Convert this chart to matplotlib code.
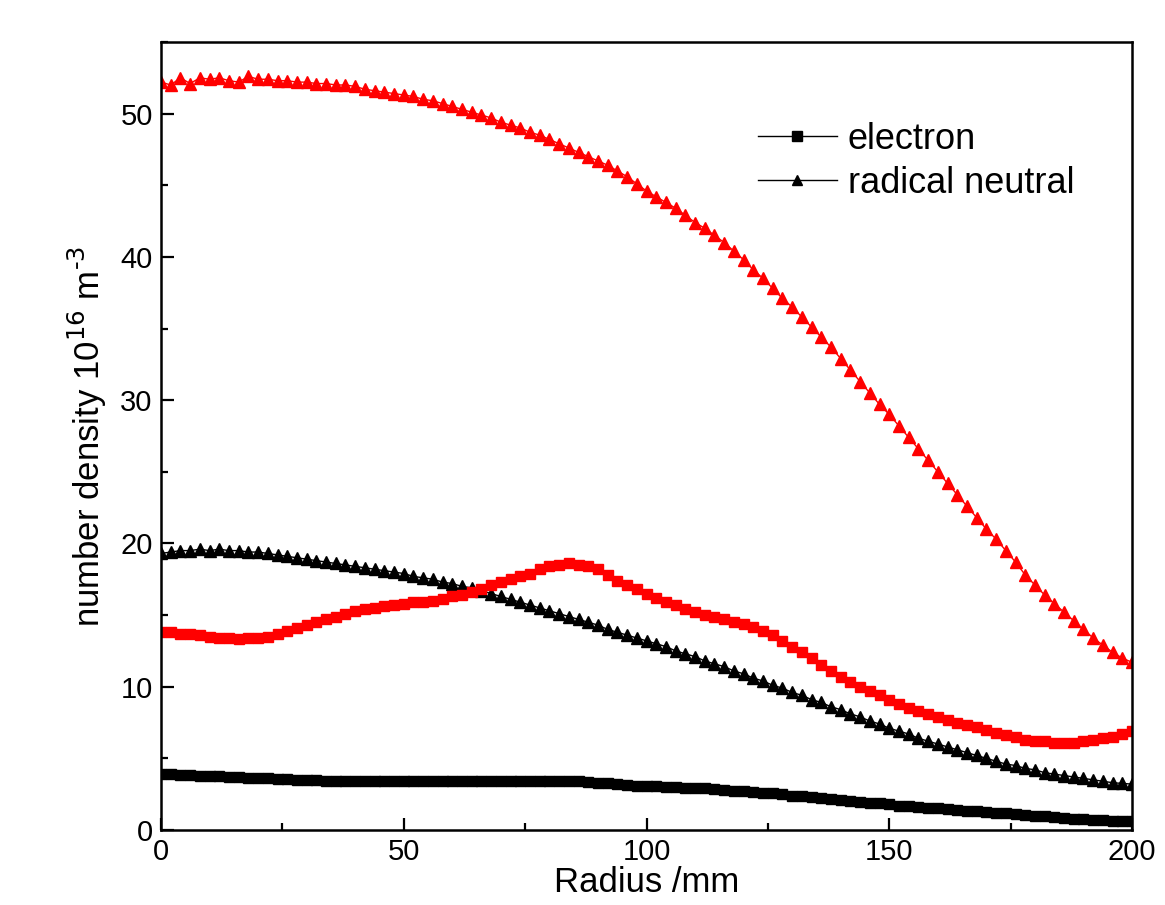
import numpy as np
import matplotlib
matplotlib.use('Agg')
import matplotlib.pyplot as plt
from matplotlib.ticker import MultipleLocator

plt.rcParams['font.family'] = ['Liberation Sans', 'DejaVu Sans']

# radius grid (mm), one sample every 2 mm
radius = list(range(0, 201, 2))

# case 1 (black)
electron_black = [
    3.9, 3.9, 3.85, 3.85, 3.8, 3.8, 3.75, 3.7, 3.7, 3.65,
    3.6, 3.6, 3.55, 3.55, 3.5, 3.5, 3.5, 3.45, 3.45, 3.45,
    3.4, 3.4, 3.4, 3.4, 3.4, 3.4, 3.4, 3.4, 3.4, 3.4,
    3.4, 3.4, 3.4, 3.4, 3.4, 3.4, 3.45, 3.45, 3.45, 3.45,
    3.45, 3.45, 3.4, 3.4, 3.35, 3.3, 3.25, 3.2, 3.15, 3.1,
    3.1, 3.05, 3.0, 3.0, 2.95, 2.9, 2.9, 2.85, 2.8, 2.75,
    2.7, 2.65, 2.6, 2.55, 2.5, 2.4, 2.35, 2.3, 2.2, 2.15,
    2.1, 2.0, 1.95, 1.9, 1.85, 1.8, 1.7, 1.65, 1.6, 1.55,
    1.5, 1.45, 1.4, 1.35, 1.3, 1.25, 1.2, 1.15, 1.1, 1.05,
    1.0, 0.95, 0.9, 0.85, 0.8, 0.75, 0.7, 0.7, 0.65, 0.6,
    0.6]
radical_black = [
    19.3, 19.4, 19.5, 19.5, 19.6, 19.5, 19.6, 19.5, 19.5, 19.4,
    19.4, 19.3, 19.2, 19.1, 19.0, 18.9, 18.8, 18.7, 18.6, 18.5,
    18.4, 18.3, 18.2, 18.1, 18.0, 17.9, 17.7, 17.6, 17.5, 17.3,
    17.2, 17.0, 16.9, 16.7, 16.5, 16.3, 16.1, 15.9, 15.7, 15.5,
    15.3, 15.1, 14.9, 14.7, 14.5, 14.3, 14.0, 13.8, 13.6, 13.4,
    13.2, 13.0, 12.8, 12.5, 12.3, 12.1, 11.8, 11.6, 11.4, 11.1,
    10.9, 10.6, 10.4, 10.1, 9.9, 9.6, 9.4, 9.1, 8.9, 8.6,
    8.4, 8.1, 7.9, 7.6, 7.4, 7.1, 6.9, 6.7, 6.4, 6.2,
    6.0, 5.8, 5.6, 5.4, 5.2, 5.0, 4.8, 4.6, 4.5, 4.3,
    4.2, 4.0, 3.9, 3.8, 3.7, 3.6, 3.5, 3.4, 3.3, 3.25,
    3.2]

# case 2 (red)
electron_red = [
    13.8, 13.8, 13.7, 13.7, 13.6, 13.5, 13.4, 13.4, 13.3, 13.4,
    13.4, 13.5, 13.7, 13.9, 14.1, 14.3, 14.5, 14.7, 14.9, 15.1,
    15.3, 15.4, 15.5, 15.6, 15.7, 15.8, 15.9, 15.9, 16.0, 16.1,
    16.3, 16.4, 16.6, 16.8, 17.1, 17.3, 17.5, 17.7, 17.9, 18.2,
    18.4, 18.5, 18.6, 18.5, 18.4, 18.2, 17.8, 17.4, 17.1, 16.8,
    16.5, 16.2, 15.9, 15.7, 15.4, 15.2, 15.0, 14.9, 14.7, 14.5,
    14.4, 14.2, 13.9, 13.6, 13.2, 12.8, 12.4, 12.0, 11.5, 11.1,
    10.7, 10.3, 10.0, 9.7, 9.4, 9.1, 8.8, 8.5, 8.3, 8.1,
    7.9, 7.7, 7.5, 7.3, 7.2, 7.0, 6.8, 6.6, 6.5, 6.3,
    6.2, 6.2, 6.1, 6.1, 6.1, 6.2, 6.3, 6.4, 6.5, 6.7,
    6.9]
radical_red = [
    52.2, 52.0, 52.5, 52.1, 52.5, 52.4, 52.5, 52.3, 52.2, 52.6,
    52.4, 52.4, 52.3, 52.3, 52.2, 52.2, 52.1, 52.1, 52.0, 52.0,
    51.9, 51.7, 51.6, 51.5, 51.4, 51.3, 51.2, 51.0, 50.9, 50.7,
    50.5, 50.3, 50.1, 49.9, 49.7, 49.4, 49.2, 49.0, 48.7, 48.5,
    48.2, 47.9, 47.6, 47.3, 47.0, 46.7, 46.4, 46.0, 45.6, 45.1,
    44.6, 44.2, 43.8, 43.4, 42.9, 42.4, 42.0, 41.5, 41.0, 40.4,
    39.8, 39.1, 38.5, 37.8, 37.1, 36.5, 35.8, 35.1, 34.4, 33.7,
    32.9, 32.1, 31.3, 30.5, 29.7, 29.0, 28.2, 27.4, 26.6, 25.8,
    25.0, 24.2, 23.4, 22.6, 21.8, 21.0, 20.3, 19.5, 18.7, 17.8,
    17.1, 16.4, 15.8, 15.2, 14.6, 14.0, 13.4, 12.9, 12.4, 12.0,
    11.7]

fig = plt.figure(figsize=(11.65, 9.05), dpi=100)
ax = fig.add_axes([0.1382, 0.0829, 0.8335, 0.8707])

ax.plot(radius, electron_black, color='black', marker='s', markersize=7.5, lw=1, label='electron')
ax.plot(radius, radical_black, color='black', marker='^', markersize=9, lw=1, label='radical neutral')
ax.plot(radius, electron_red, color='red', marker='s', markersize=7.5, lw=1)
ax.plot(radius, radical_red, color='red', marker='^', markersize=9, lw=1)

ax.set_xlim(0, 200)
ax.set_ylim(0, 55)
ax.xaxis.set_major_locator(MultipleLocator(50))
ax.xaxis.set_minor_locator(MultipleLocator(25))
ax.yaxis.set_major_locator(MultipleLocator(10))
ax.yaxis.set_minor_locator(MultipleLocator(5))
ax.tick_params(which='major', direction='in', length=9, width=1.6, labelsize=21, pad=6)
ax.tick_params(which='minor', direction='in', length=5, width=1.6)
for s in ax.spines.values():
    s.set_linewidth(1.8)

ax.set_xlabel('Radius /mm', fontsize=25, labelpad=0)
ax.set_ylabel(r'number density 10$^{16}$ m$^{\text{-}3}$', fontsize=25, labelpad=8)

leg = ax.legend(loc='upper right', bbox_to_anchor=(0.974, 0.94), frameon=False,
                fontsize=26, handlelength=2.2, handletextpad=0.3, labelspacing=0.25)
for h in leg.legend_handles:
    h.set_markersize(7)

plt.savefig('out.png', dpi=100)
plt.close()
